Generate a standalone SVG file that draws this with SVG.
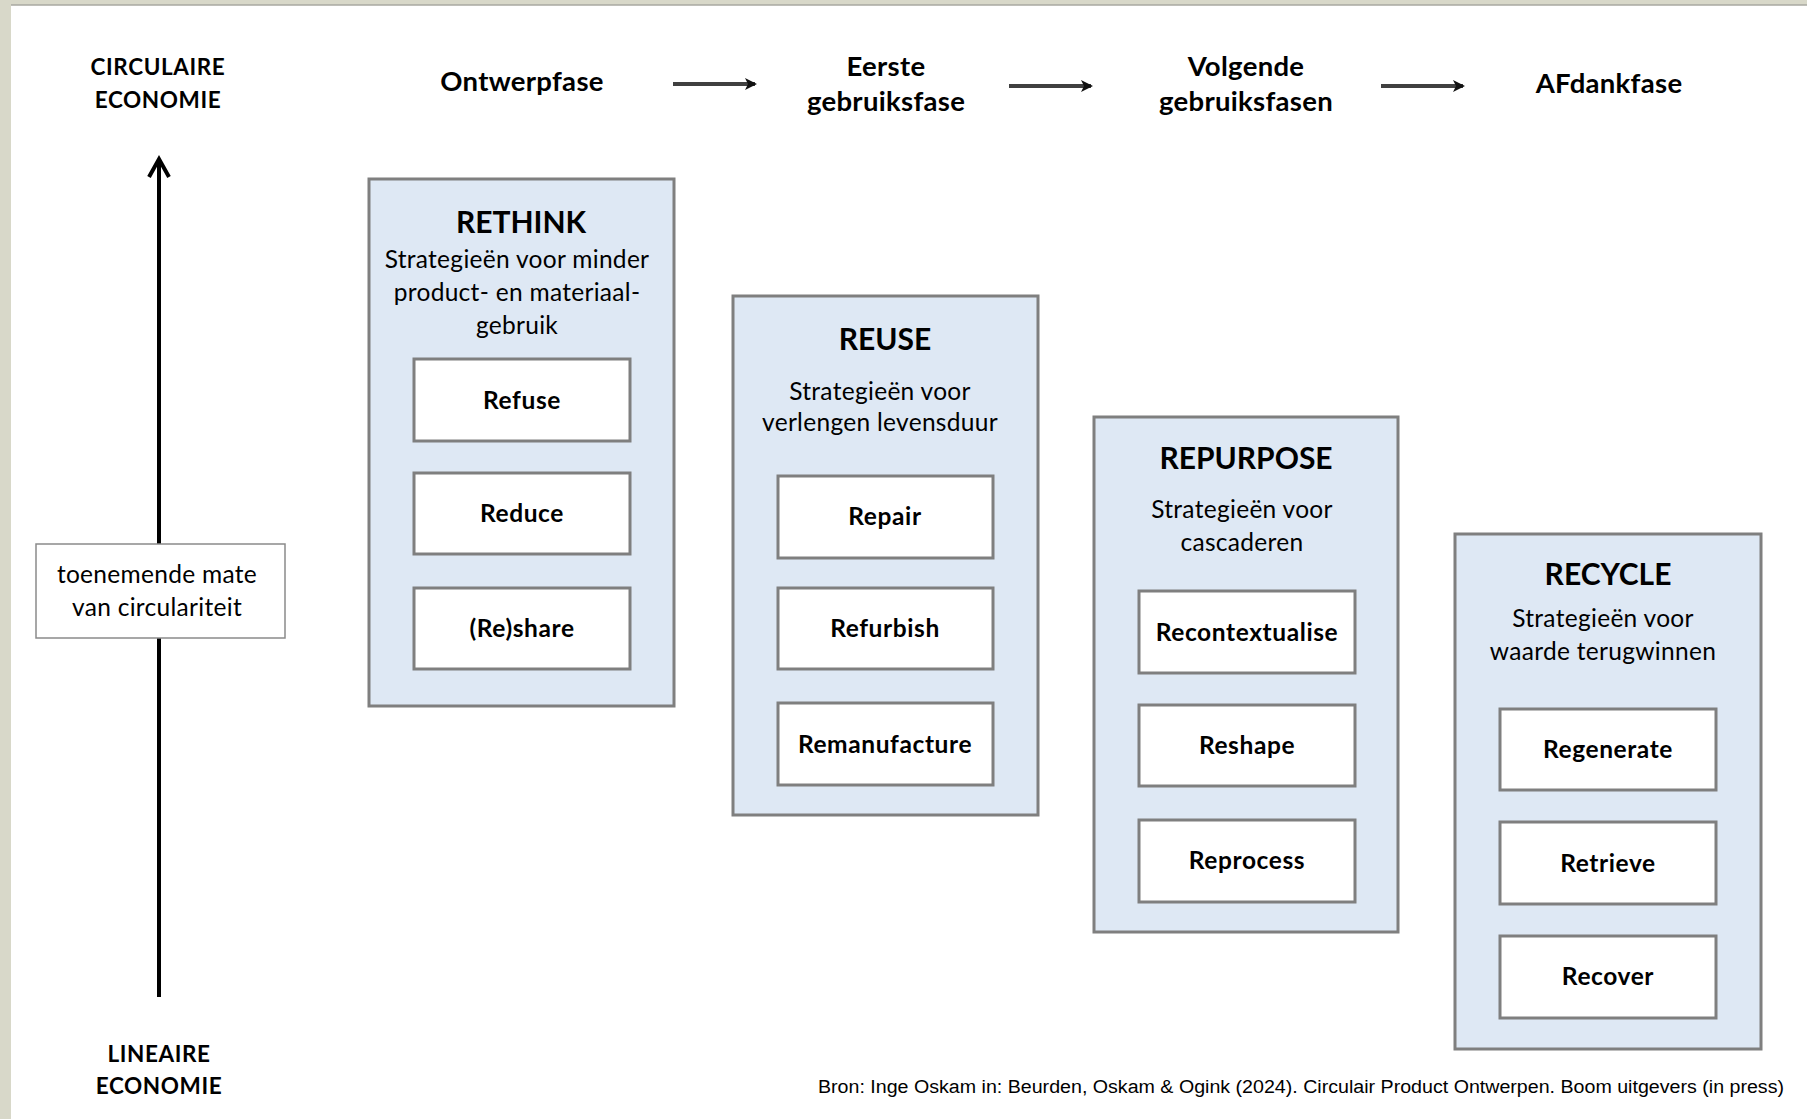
<svg xmlns="http://www.w3.org/2000/svg" width="1807" height="1119" viewBox="0 0 1807 1119">
<defs>
<style>
.t{font-family:Lato,"Liberation Sans",sans-serif;fill:#000;text-anchor:middle}
.hd{font-size:27.5px;font-weight:bold;letter-spacing:0.3px}
.ax{font-size:22.5px;font-weight:bold;letter-spacing:0.6px}
.ti{font-size:30px;font-weight:bold}
.su{font-size:24.5px;letter-spacing:0.3px}
.lb{font-size:24.5px;font-weight:bold;letter-spacing:0.6px}
.outer{fill:#dee8f4;stroke:#7f7f7f;stroke-width:3}
.inner{fill:#fff;stroke:#7f7f7f;stroke-width:3}
.ph{stroke:#404040;stroke-width:4;fill:none}
</style>
<marker id="ah" markerWidth="12" markerHeight="12" refX="10" refY="6" orient="auto" markerUnits="userSpaceOnUse">
<path d="M0,0 L12,6 L0,12 L3,6 Z" fill="#111"/>
</marker>
</defs>
<rect x="0" y="0" width="1807" height="1119" fill="#fff"/>
<rect x="0" y="0" width="1807" height="5" fill="#d8d8c9"/>
<rect x="0" y="0" width="11" height="1119" fill="#d8d8c9"/>
<line x1="11" y1="5" x2="1807" y2="5" stroke="#a8a8a0" stroke-width="1.5"/>

<g id="connectors">
<line class="ph" x1="673" y1="84" x2="755" y2="84" marker-end="url(#ah)"/>
<line class="ph" x1="1009" y1="86" x2="1091" y2="86" marker-end="url(#ah)"/>
<line class="ph" x1="1381" y1="86" x2="1463" y2="86" marker-end="url(#ah)"/>
<line x1="159" y1="997" x2="159" y2="160" stroke="#000" stroke-width="4"/>
<polyline points="149,177 159,159 169,177" fill="none" stroke="#000" stroke-width="4" stroke-linejoin="miter"/>
</g>

<g id="axis-top">
<text class="t ax" x="158" y="75">CIRCULAIRE</text>
<text class="t ax" x="158" y="108">ECONOMIE</text>
</g>
<g id="axis-bottom">
<text class="t ax" x="159" y="1062">LINEAIRE</text>
<text class="t ax" x="159" y="1094">ECONOMIE</text>
</g>
<g id="axis-label">
<rect x="36" y="544" width="249" height="94" fill="#fff" stroke="#8a8a8a" stroke-width="1.5"/>
<text class="t su" x="157" y="583">toenemende mate</text>
<text class="t su" x="157" y="616">van circulariteit</text>
</g>

<g id="phase-ontwerp"><text class="t hd" x="522" y="91">Ontwerpfase</text></g>
<g id="phase-eerste"><text class="t hd" x="886" y="76">Eerste</text><text class="t hd" x="886" y="111">gebruiksfase</text></g>
<g id="phase-volgende"><text class="t hd" x="1246" y="76">Volgende</text><text class="t hd" x="1246" y="111">gebruiksfasen</text></g>
<g id="phase-afdank"><text class="t hd" x="1609" y="93">AFdankfase</text></g>

<g id="rethink">
<rect class="outer" x="369" y="179" width="305" height="527"/>
<text class="t ti" x="521" y="233">RETHINK</text>
<text class="t su" x="517" y="268">Strategieën voor minder</text>
<text class="t su" x="517" y="301">product- en materiaal-</text>
<text class="t su" x="517" y="334">gebruik</text>
</g>
<g id="refuse"><rect class="inner" x="414" y="359" width="216" height="82"/><text class="t lb" x="522" y="409">Refuse</text></g>
<g id="reduce"><rect class="inner" x="414" y="473" width="216" height="81"/><text class="t lb" x="522" y="522">Reduce</text></g>
<g id="reshare"><rect class="inner" x="414" y="588" width="216" height="81"/><text class="t lb" x="522" y="637">(Re)share</text></g>

<g id="reuse">
<rect class="outer" x="733" y="296" width="305" height="519"/>
<text class="t ti" x="885" y="350">REUSE</text>
<text class="t su" x="880" y="400">Strategieën voor</text>
<text class="t su" x="880" y="431">verlengen levensduur</text>
</g>
<g id="repair"><rect class="inner" x="778" y="476" width="215" height="82"/><text class="t lb" x="885" y="525">Repair</text></g>
<g id="refurbish"><rect class="inner" x="778" y="588" width="215" height="81"/><text class="t lb" x="885" y="637">Refurbish</text></g>
<g id="remanufacture"><rect class="inner" x="778" y="703" width="215" height="82"/><text class="t lb" x="885" y="753">Remanufacture</text></g>

<g id="repurpose">
<rect class="outer" x="1094" y="417" width="304" height="515"/>
<text class="t ti" x="1246" y="469">REPURPOSE</text>
<text class="t su" x="1242" y="518">Strategieën voor</text>
<text class="t su" x="1242" y="551">cascaderen</text>
</g>
<g id="recontextualise"><rect class="inner" x="1139" y="591" width="216" height="82"/><text class="t lb" x="1247" y="641">Recontextualise</text></g>
<g id="reshape"><rect class="inner" x="1139" y="705" width="216" height="81"/><text class="t lb" x="1247" y="754">Reshape</text></g>
<g id="reprocess"><rect class="inner" x="1139" y="820" width="216" height="82"/><text class="t lb" x="1247" y="869">Reprocess</text></g>

<g id="recycle">
<rect class="outer" x="1455" y="534" width="306" height="515"/>
<text class="t ti" x="1608" y="585">RECYCLE</text>
<text class="t su" x="1603" y="627">Strategieën voor</text>
<text class="t su" x="1603" y="660">waarde terugwinnen</text>
</g>
<g id="regenerate"><rect class="inner" x="1500" y="709" width="216" height="81"/><text class="t lb" x="1608" y="758">Regenerate</text></g>
<g id="retrieve"><rect class="inner" x="1500" y="822" width="216" height="82"/><text class="t lb" x="1608" y="872">Retrieve</text></g>
<g id="recover"><rect class="inner" x="1500" y="936" width="216" height="82"/><text class="t lb" x="1608" y="985">Recover</text></g>

<g id="source">
<text x="1784" y="1093" font-family="'Liberation Sans',Arial,sans-serif" font-size="18" text-anchor="end" textLength="966" lengthAdjust="spacingAndGlyphs">Bron: Inge Oskam in: Beurden, Oskam &amp; Ogink (2024). Circulair Product Ontwerpen. Boom uitgevers (in press)</text>
</g>
</svg>
